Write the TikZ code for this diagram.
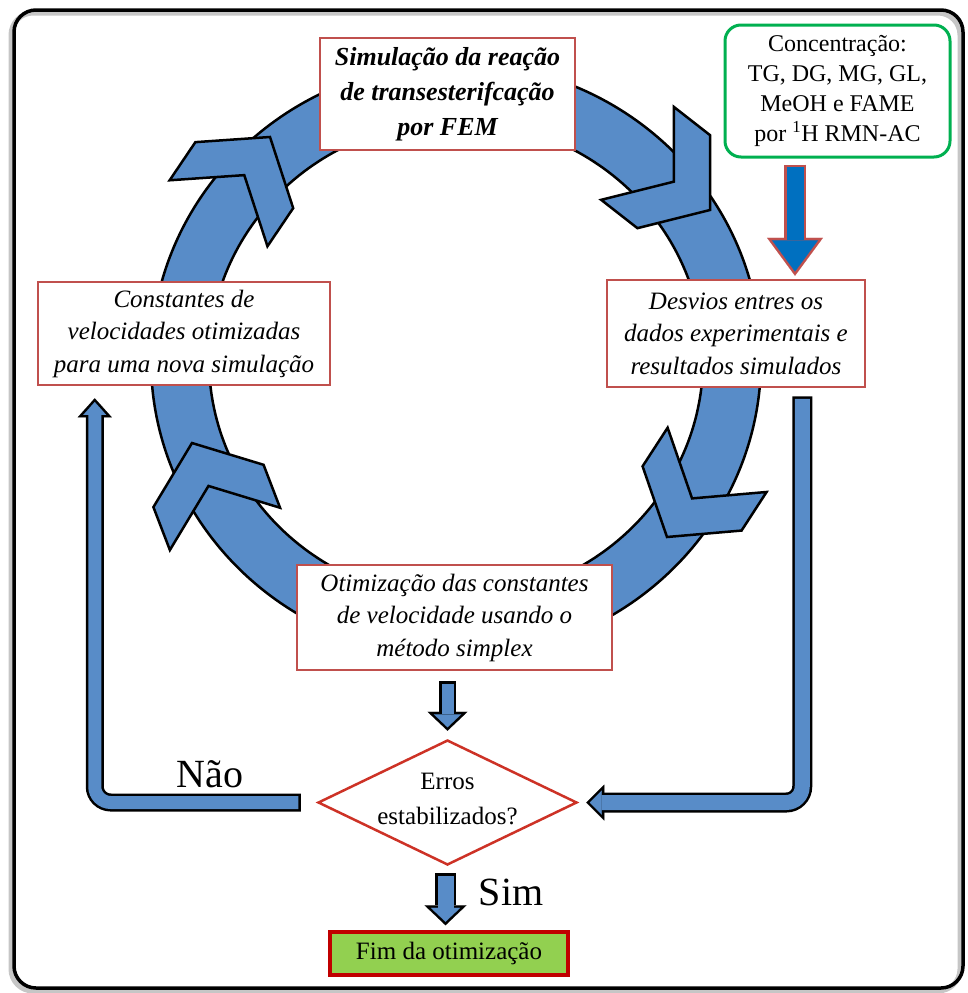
\documentclass[tikz,border=0pt]{standalone}
\usepackage{fontspec}
\setmainfont{Liberation Serif}
\usepackage{tikz}
\usetikzlibrary{positioning, arrows.meta, shapes.geometric, calc}

\definecolor{boxred}{RGB}{192,80,77}
\definecolor{diared}{RGB}{205,50,38}
\definecolor{fimred}{RGB}{192,0,0}
\definecolor{fimgreen}{RGB}{146,208,80}
\definecolor{concgreen}{RGB}{0,176,80}
\definecolor{ringblue}{RGB}{88,140,200}
\definecolor{deepblue}{RGB}{0,112,192}

\begin{document}
\begin{tikzpicture}[
        x=1pt,
        y=-1pt,
        stepbox/.style={
            rectangle,
            draw=boxred,
            line width=2.5pt,
            fill=white,
            align=center,
            inner sep=0pt,
            font=\fontsize{25}{32.5}\selectfont\itshape
        },
        concbox/.style={
            rectangle,
            rounded corners=16pt,
            draw=concgreen,
            line width=3pt,
            fill=white,
            align=center,
            inner sep=0pt,
            font=\fontsize{24}{30}\selectfont
        },
        decision/.style={
            diamond,
            draw=diared,
            line width=2.5pt,
            fill=white,
            aspect=2.07,
            inner sep=0pt
        },
        endbox/.style={
            rectangle,
            draw=fimred,
            line width=3.5pt,
            fill=fimgreen,
            inner sep=0pt,
            font=\fontsize{25}{30}\selectfont
        },
        chevron/.style={
            fill=ringblue,
            draw=black,
            line width=2.5pt,
            line join=miter
        },
        blockedge/.style n args={3}{
            line width=#1,
            -{Triangle[width=#2, length=#3, line width=0.1pt]}
        },
        blockbody/.style n args={4}{
            line width=#1,
            shorten <=2.5pt,
            shorten >=#4,
            -{Triangle[width=#2, length=#3, line width=0.1pt]}
        },
        answer/.style={
            anchor=base,
            font=\fontsize{40}{48}\selectfont
        }
    ]

    \useasboundingbox (0,0) rectangle (968,993);

    % --------------------------------------------------------
    % Frame
    % --------------------------------------------------------

    \draw[
        gray!45,
        line width=5pt,
        rounded corners=22pt
    ]
    (11,13) rectangle (960,991);

    \draw[
        black,
        line width=3.5pt,
        rounded corners=22pt
    ]
    (14,10) rectangle (963,988);

    % --------------------------------------------------------
    % Cycle ring with chevrons
    % --------------------------------------------------------

    \filldraw[
        fill=ringblue,
        draw=black,
        line width=2.5pt,
        even odd rule
    ]
    (456,360) ellipse [x radius=305, y radius=297]
    (456,360) ellipse [x radius=247, y radius=239];

    \foreach \cx/\cy/\ang in {
        270/137/56,
        710/210/-38,
        667/537/-123,
        192/443/111
    } {

        \filldraw[
            chevron,
            shift={(\cx,\cy)},
            rotate=\ang
        ]
        (0,0) -- (-46,59) -- (-92,59) -- (-46,0)
        -- (-92,-59) -- (-46,-59) -- cycle;

    }

    % --------------------------------------------------------
    % Steps
    % --------------------------------------------------------

    \node[
        stepbox,
        minimum width=255pt,
        minimum height=112pt,
        font=\fontsize{26}{35}\selectfont\bfseries\itshape
    ]
    (simul)
    at (447.5,94)
    {Simulação da reação\\de transesterifcação\\por FEM};

    \node[
        concbox,
        minimum width=225pt,
        minimum height=132pt
    ]
    (conc)
    at (837.5,91)
    {Concentração:\\TG, DG, MG, GL,\\MeOH e FAME\\por \textsuperscript{1}H RMN-AC};

    \node[
        stepbox,
        minimum width=258pt,
        minimum height=107pt
    ]
    (desv)
    at (736,333.5)
    {Desvios entres os\\dados experimentais e\\resultados simulados};

    \node[
        stepbox,
        minimum width=292pt,
        minimum height=103pt
    ]
    (cst)
    at (184,333.5)
    {Constantes de\\velocidades otimizadas\\para uma nova simulação};

    \node[
        stepbox,
        minimum width=315pt,
        minimum height=105pt
    ]
    (otm)
    at (454.5,617.5)
    {Otimização das constantes\\de velocidade usando o\\método simplex};

    \node[
        decision,
        minimum width=259pt,
        minimum height=125pt
    ]
    (dia)
    at (447.5,802.5)
    {};

    \node[
        align=center,
        font=\fontsize{25}{35}\selectfont
    ]
    (diatxt)
    at ($(dia.center)+(0,-4)$)
    {Erros\\estabilizados?};

    \node[
        endbox,
        minimum width=238pt,
        minimum height=43pt
    ]
    (fim)
    at (449,953.5)
    {Fim da otimização};

    % --------------------------------------------------------
    % Block arrows
    % --------------------------------------------------------

    \draw[
        boxred,
        blockedge={22pt}{56pt}{38pt}
    ]
    ($(conc.south)+(-42.5,6)$) -- ($(desv.north)+(59,-3)$);

    \draw[
        deepblue,
        blockbody={17pt}{46pt}{31.3pt}{4.2pt}
    ]
    ($(conc.south)+(-42.5,6)$) -- ($(desv.north)+(59,-3)$);

    \draw[
        black,
        blockedge={17pt}{40pt}{19pt}
    ]
    ($(dia.north |- otm.south)+(0,10)$) -- ($(dia.north)+(0,-8)$);

    \draw[
        ringblue,
        blockbody={12pt}{27.5pt}{13pt}{3.5pt}
    ]
    ($(dia.north |- otm.south)+(0,10)$) -- ($(dia.north)+(0,-8)$);

    \draw[
        black,
        blockedge={21pt}{42pt}{20pt}
    ]
    ($(dia.south)+(-2,7)$) -- ($(dia.south |- fim.north)+(-2,-5)$);

    \draw[
        ringblue,
        blockbody={16pt}{29.5pt}{14pt}{3.5pt}
    ]
    ($(dia.south)+(-2,7)$) -- ($(dia.south |- fim.north)+(-2,-5)$);

    % Não: back to the constants
    \draw[
        black,
        rounded corners=16pt,
        blockedge={18pt}{34pt}{19pt}
    ]
    ($(dia.west)+(-16,0)$) -| ($(cst.south west)+(58,12)$);

    \draw[
        ringblue,
        rounded corners=16pt,
        blockbody={13pt}{22.8pt}{12.8pt}{3.8pt}
    ]
    ($(dia.west)+(-16,0)$) -| ($(cst.south west)+(58,12)$);

    % deviations into the decision
    \draw[
        black,
        rounded corners=16pt,
        blockedge={20pt}{36pt}{18pt}
    ]
    ($(desv.south east)+(-64,8)$) |- ($(dia.east)+(8,0)$);

    \draw[
        ringblue,
        rounded corners=16pt,
        blockbody={15pt}{24pt}{12pt}{3.5pt}
    ]
    ($(desv.south east)+(-64,8)$) |- ($(dia.east)+(8,0)$);

    % --------------------------------------------------------
    % Answers
    % --------------------------------------------------------

    \node[
        answer
    ]
    (nao)
    at (210,787)
    {Não};

    \node[
        answer
    ]
    (sim)
    at (511,905)
    {Sim};

\end{tikzpicture}
\end{document}
